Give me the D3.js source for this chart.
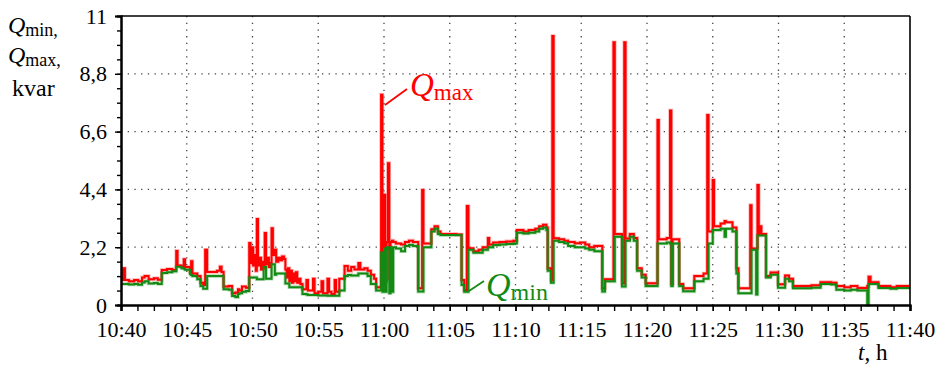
<!DOCTYPE html>
<html>
<head>
<meta charset="utf-8">
<script src="https://cdn.jsdelivr.net/npm/d3@7"></script>
<style>
  html, body { margin: 0; padding: 0; background: #fff; }
  svg { display: block; }
  text { font-family: 'Liberation Serif' !important; }
</style>
</head>
<body>
<script>
// Reactive power, minimum and maximum per interval, 10:40 to 11:40.
// Time is in minutes after 10:40; each value holds until the next time (step).
const timeMin = [
  0.0, 0.15, 0.3, 0.6, 1.0, 1.3, 1.6, 1.8, 2.1, 2.5, 2.8, 3.1, 3.5, 3.9, 4.2, 4.3, 4.6, 4.77, 4.87,
  5.25, 5.33, 5.43, 5.8, 6.05, 6.25, 6.4, 6.55, 7.3, 7.52, 7.65, 7.8, 8.2, 8.45, 8.7, 8.9, 9.0, 9.2, 9.5,
  9.75, 9.85, 9.95, 10.05, 10.15, 10.25, 10.33, 10.42, 10.55, 10.65, 10.75, 10.85, 10.93, 11.03, 11.15,
  11.25, 11.35, 11.45, 11.55, 11.7, 11.8, 11.95, 12.1, 12.25, 12.4, 12.5, 12.6, 12.7, 12.8, 12.9, 13.0,
  13.1, 13.2, 13.3, 13.4, 13.5, 13.65, 13.8, 14.1, 14.22, 14.6, 14.72, 15.0, 15.25, 15.37, 15.7, 15.82,
  16.0, 16.25, 16.35, 16.6, 17.0, 17.25, 17.5, 17.75, 18.05, 18.2, 18.5, 18.75, 19.0, 19.25, 19.4,
  19.78, 19.88, 20.0, 20.1, 20.2, 20.3, 20.4, 20.5, 20.6, 20.7, 20.9, 21.3, 21.6, 21.9, 22.2, 22.6, 22.9,
  23.0, 23.6, 23.85, 24.1, 24.3, 25.5, 25.9, 26.1, 26.3, 26.42, 26.8, 27.2, 27.5, 27.9, 28.0, 28.3, 28.8,
  29.3, 29.85, 30.1, 30.6, 31.0, 31.5, 31.8, 32.1, 32.35, 32.45, 32.7, 32.8, 32.9, 33.3, 33.7, 34.0, 34.5,
  34.9, 35.3, 35.6, 36.0, 36.6, 36.8, 37.45, 37.55, 38.1, 38.27, 38.37, 38.7, 39.0, 39.25, 39.6, 39.9,
  40.8, 40.9, 41.5, 41.75, 41.85, 41.95, 42.45, 42.75, 43.6, 44.3, 44.58, 44.68, 45.0, 45.1, 45.6, 45.9,
  46.0, 46.5, 46.8, 46.95, 47.85, 47.95, 48.3, 48.4, 48.5, 48.6, 48.7, 49.05, 49.4, 49.96, 50.5, 50.8,
  51.1, 52.5, 53.2, 54.0, 54.4, 55.0, 55.5, 56.0, 56.75, 56.85, 57.0, 57.6, 58.5, 59.0, 60.0
];
const qMax = [
  0.95, 1.40, 0.95, 0.90, 0.95, 0.90, 1.05, 1.10, 0.98, 1.02, 0.96, 1.33, 1.37, 1.33, 2.06, 1.50, 1.46, 1.74, 1.45,
  1.25, 1.67, 1.20, 1.10, 0.85, 0.76, 2.10, 1.26, 1.30, 1.46, 1.26, 0.70, 0.72, 0.45, 0.48, 0.60, 0.55, 0.70, 0.66,
  2.36, 1.60, 2.20, 1.50, 1.90, 1.30, 3.27, 1.50, 1.80, 1.35, 1.65, 1.40, 2.74, 1.55, 1.80,
  1.45, 1.60, 2.92, 1.90, 2.10, 1.65, 1.80, 1.70, 1.85, 1.75, 1.35, 1.05, 1.40, 0.90, 1.30, 0.85,
  1.20, 0.90, 1.25, 0.85, 1.00, 0.80, 0.60, 0.95, 0.55, 1.00, 0.45, 0.50, 0.90, 0.45, 1.00, 0.50,
  0.42, 0.95, 0.50, 1.00, 1.48, 1.30, 1.45, 1.35, 1.60, 1.35, 1.40, 1.30, 1.15, 1.00, 0.68,
  8.00, 1.20, 4.20, 0.90, 2.40, 5.40, 1.00, 2.40, 2.45, 2.40, 2.34, 2.30, 2.40, 2.45, 2.40, 0.64, 4.38,
  2.34, 2.88, 3.00, 2.80, 2.70, 2.68, 0.95, 0.57, 3.77, 2.16, 2.05, 2.10, 2.20, 2.55, 2.30, 2.38, 2.40,
  2.42, 2.45, 2.85, 2.80, 2.85, 2.90, 3.00, 3.05, 2.95, 1.40, 0.95, 10.24, 2.54, 2.50, 2.45, 2.40, 2.35,
  2.38, 2.30, 2.20, 2.25, 0.64, 0.98, 10.00, 2.70, 0.82, 10.00, 2.53, 2.70, 2.55, 1.40, 1.15, 0.83,
  7.04, 2.50, 2.55, 7.40, 0.80, 2.50, 0.80, 0.64, 1.10, 1.20, 7.23, 2.80, 4.76, 3.00, 3.10, 3.20,
  3.15, 2.95, 1.40, 0.64, 3.80, 2.15, 2.15, 4.57, 2.70, 3.00, 2.70, 1.10, 1.24, 0.79, 1.12, 1.00,
  0.72, 0.75, 0.87, 0.85, 0.72, 0.68, 0.72, 0.65, 0.72, 1.08, 0.87, 0.72, 0.68, 0.72, 0.72
];
const qMin = [
  0.80, 0.80, 0.80, 0.78, 0.80, 0.77, 0.86, 0.90, 0.82, 0.84, 0.80, 1.22, 1.25, 1.28, 1.46, 1.46, 1.40, 1.38, 1.34,
  1.18, 1.14, 1.10, 0.98, 0.72, 0.62, 0.62, 1.10, 1.10, 1.10, 1.10, 0.60, 0.58, 0.34, 0.30, 0.42, 0.45, 0.50, 0.53,
  1.05, 1.05, 1.05, 1.05, 1.05, 1.05, 0.98, 0.98, 0.98, 0.98, 0.98, 1.45, 1.45, 1.00, 1.00,
  1.00, 1.00, 1.55, 1.55, 1.15, 1.20, 1.20, 1.20, 1.20, 1.20, 0.82, 0.82, 0.82, 0.68, 0.68, 0.68,
  0.68, 0.68, 0.68, 0.68, 0.68, 0.68, 0.42, 0.40, 0.38, 0.38, 0.38, 0.36, 0.36, 0.36, 0.35, 0.35,
  0.35, 0.35, 0.35, 0.55, 1.10, 1.14, 1.12, 1.12, 1.20, 1.20, 1.20, 1.10, 0.80, 0.80, 0.55,
  2.00, 0.50, 2.15, 0.50, 2.20, 2.15, 0.45, 2.20, 0.50, 2.20, 2.15, 2.05, 2.25, 2.28, 2.25, 0.51, 0.51,
  2.20, 2.80, 2.90, 2.70, 2.66, 2.66, 0.76, 0.50, 0.50, 2.10, 1.99, 1.99, 2.10, 2.20, 2.20, 2.28, 2.30,
  2.32, 2.34, 2.75, 2.72, 2.75, 2.80, 2.90, 2.95, 2.85, 1.30, 0.85, 0.85, 2.45, 2.40, 2.35, 2.25, 2.20,
  2.20, 2.15, 2.10, 2.05, 0.51, 0.90, 0.90, 2.60, 0.70, 0.70, 2.45, 2.60, 2.45, 1.30, 1.05, 0.72,
  2.34, 2.34, 2.38, 2.34, 0.72, 2.34, 0.72, 0.52, 0.90, 1.00, 1.00, 2.34, 2.85, 2.85, 2.90, 2.60,
  2.90, 2.80, 1.20, 0.45, 0.45, 2.10, 0.40, 2.65, 2.65, 2.65, 2.65, 1.05, 1.15, 0.66, 1.00, 0.90,
  0.64, 0.66, 0.80, 0.78, 0.58, 0.55, 0.58, 0.55, 0.00, 0.80, 0.80, 0.65, 0.62, 0.65, 0.65
];

const xTickValues = [0, 5, 10, 15, 20, 25, 30, 35, 40, 45, 50, 55, 60];
const xTickLabels = ["10:40", "10:45", "10:50", "10:55", "11:00", "11:05", "11:10",
                     "11:15", "11:20", "11:25", "11:30", "11:35", "11:40"];
const yTickValues = [0, 2.2, 4.4, 6.6, 8.8, 11];
const yTickLabels = ["0", "2,2", "4,4", "6,6", "8,8", "11"];

const SERIF = "'Liberation Serif'";
const W = 935, H = 365;
const svg = d3.select("body").append("svg").attr("width", W).attr("height", H)
  .attr("font-family", "Liberation Serif");

const x = d3.scaleLinear().domain([0, 60]).range([121, 910]);
const y = d3.scaleLinear().domain([0, 11]).range([305, 16]);

// dotted grid
const grid = svg.append("g").attr("stroke", "#444").attr("stroke-width", 1.3)
  .attr("stroke-dasharray", "1.3 5.4");
grid.selectAll("line.h").data(yTickValues.slice(1, -1)).join("line")
  .attr("x1", x(0)).attr("x2", x(60)).attr("y1", d => y(d)).attr("y2", d => y(d));
grid.selectAll("line.v").data(xTickValues.slice(1, -1)).join("line")
  .attr("x1", d => x(d)).attr("x2", d => x(d)).attr("y1", y(11)).attr("y2", y(0));

// series
const rows = timeMin.map((t, i) => ({ t, max: qMax[i], min: qMin[i] }));
const lineMax = d3.line().curve(d3.curveStepAfter).x(d => x(d.t)).y(d => y(d.max));
const lineMin = d3.line().curve(d3.curveStepAfter).x(d => x(d.t)).y(d => y(d.min));

const plot = svg.append("g").attr("fill", "none").attr("stroke-linejoin", "miter");
plot.append("path").attr("d", lineMax(rows)).attr("stroke", "#ff0000").attr("stroke-opacity", 0.3).attr("stroke-width", 3.6);
plot.append("path").attr("d", lineMin(rows)).attr("stroke", "#138a13").attr("stroke-opacity", 0.3).attr("stroke-width", 3.6);
plot.append("path").attr("d", lineMax(rows)).attr("stroke", "#ff0000").attr("stroke-width", 2);
plot.append("path").attr("d", lineMin(rows)).attr("stroke", "#138a13").attr("stroke-width", 2);

// frame top and right
svg.append("line").attr("x1", x(0)).attr("x2", x(60)).attr("y1", y(11)).attr("y2", y(11))
  .attr("stroke", "#000").attr("stroke-width", 1.6);
svg.append("line").attr("x1", x(60)).attr("x2", x(60)).attr("y1", y(11)).attr("y2", y(0))
  .attr("stroke", "#000").attr("stroke-width", 1.6);

// axes
const xMinor = d3.axisBottom(x).tickValues(d3.range(0, 60.001, 1.25)).tickSize(6).tickFormat("");
const xMajor = d3.axisBottom(x).tickValues(xTickValues).tickSize(6).tickPadding(10)
  .tickFormat((d, i) => xTickLabels[i]);
const yMinor = d3.axisLeft(y).tickValues(d3.range(0, 11.001, 0.55)).tickSize(4).tickFormat("");
const yMajor = d3.axisLeft(y).tickValues(yTickValues).tickSize(6).tickPadding(8)
  .tickFormat((d, i) => yTickLabels[i]);

function styleAxis(g) {
  g.attr("font-family", "Liberation Serif").attr("font-size", 22);
  g.select(".domain").attr("stroke", "#000").attr("stroke-width", 2);
  g.selectAll(".tick line").attr("stroke", "#000").attr("stroke-width", 1.4);
  g.selectAll(".tick text").attr("fill", "#000").attr("font-size", 22)
    .style("font-family", SERIF);
}
svg.append("g").attr("transform", `translate(0,${y(0)})`).call(xMinor).call(styleAxis);
svg.append("g").attr("transform", `translate(0,${y(0)})`).call(xMajor).call(styleAxis);
svg.append("g").attr("transform", `translate(${x(0)},0)`).call(yMinor).call(styleAxis);
svg.append("g").attr("transform", `translate(${x(0)},0)`).call(yMajor).call(styleAxis);

// axis titles
const yTitle = svg.append("g").attr("fill", "#000");
function qLabel(parent, xPos, yBase, sub, qSize, subSize, color, trailing) {
  const t = parent.append("text").attr("x", xPos).attr("y", yBase).attr("fill", color)
    .style("font-family", SERIF);
  t.append("tspan").attr("font-style", "italic").attr("font-size", qSize).text("Q");
  t.append("tspan").attr("font-size", subSize).attr("dy", qSize * 0.12).text(sub + (trailing || ""));
  return t;
}
qLabel(yTitle, 8, 33, "min", 24, 18, "#000", ",");
qLabel(yTitle, 8, 63, "max", 24, 18, "#000", ",");
yTitle.append("text").attr("x", 12).attr("y", 96).attr("font-size", 24)
  .style("font-family", SERIF).text("kvar");

const xTitle = svg.append("text").attr("x", 858).attr("y", 360).attr("font-size", 23)
  .style("font-family", SERIF).attr("fill", "#000");
xTitle.append("tspan").attr("font-style", "italic").text("t");
xTitle.append("tspan").text(", h");

// series annotations
svg.append("line").attr("x1", 385).attr("y1", 105).attr("x2", 407).attr("y2", 89)
  .attr("stroke", "#ff0000").attr("stroke-width", 1.8);
qLabel(svg, 410, 96, "max", 33, 23, "#ff0000");
svg.append("line").attr("x1", 469).attr("y1", 291).attr("x2", 484).attr("y2", 281)
  .attr("stroke", "#138a13").attr("stroke-width", 1.8);
qLabel(svg, 486, 296, "min", 34, 24, "#138a13");
</script>
</body>
</html>
